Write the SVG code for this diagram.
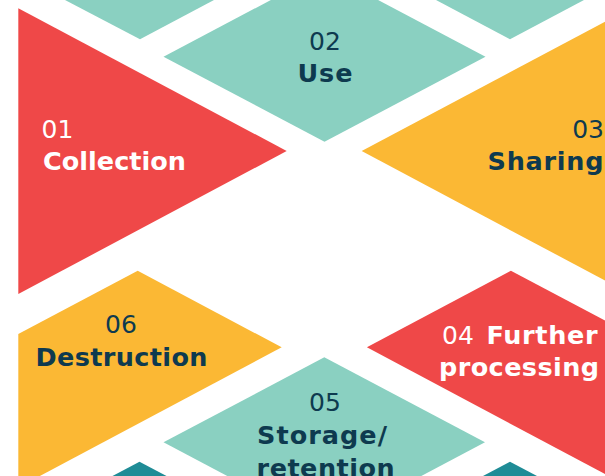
<svg xmlns="http://www.w3.org/2000/svg" width="605" height="476" viewBox="0 0 605 476">
<style>
.teal{fill:#8AD0C1}
.dteal{fill:#1F8C96}
.red{fill:#EF4848}
.yel{fill:#FBB834}
text{font-family:"DejaVu Sans","Verdana",sans-serif}
.num{font-weight:normal;font-size:25px}
.lbl{font-weight:bold;font-size:25.5px}
.w{fill:#FFFFFF}
.d{fill:#0E3A4F}
</style>
<rect width="605" height="476" fill="#FFFFFF"/>
<g id="deco">
<polygon class="teal" points="65,0 140,39.3 214,0"/>
<polygon class="teal" points="436,0 510,39.3 584,0"/>
<polygon class="dteal" points="139.5,461.7 210,499 69,499"/>
<polygon class="dteal" points="510,461.7 580.5,499 439.5,499"/>
</g>
<g id="node-01">
<polygon class="red" points="18.3,8.3 286.7,151 18.3,294"/>
<text class="num w" x="41.5" y="137.5">01</text>
<text class="lbl w" x="43" y="170" textLength="143" lengthAdjust="spacing">Collection</text>
</g>
<g id="node-02">
<polygon class="teal" points="163.5,56.7 324.5,-28.3 485.5,56.7 324.5,141.7"/>
<text class="num d" x="325" y="50" text-anchor="middle">02</text>
<text class="lbl d" x="325" y="81.5" text-anchor="middle" textLength="55" lengthAdjust="spacing">Use</text>
</g>
<g id="node-03">
<polygon class="yel" points="630.3,8.3 361.7,151 630.3,294"/>
<text class="num d" x="604" y="138" text-anchor="end">03</text>
<text class="lbl d" x="603.5" y="170" text-anchor="end" textLength="116" lengthAdjust="spacing">Sharing</text>
</g>
<g id="node-04">
<polygon class="red" points="630.3,334 510.9,270.7 366.9,347.3 630.3,487.5"/>
<text class="num w" x="442" y="344.3">04</text>
<text class="lbl w" x="597.5" y="344.3" text-anchor="end" textLength="111" lengthAdjust="spacing">Further</text>
<text class="lbl w" x="519" y="376" text-anchor="middle" textLength="160" lengthAdjust="spacing">processing</text>
</g>
<g id="node-05">
<polygon class="teal" points="324.3,357.3 485,442.3 324.3,527.3 163.5,442.3"/>
<text class="num d" x="325" y="411" text-anchor="middle">05</text>
<text class="lbl d" x="322" y="444.3" text-anchor="middle" textLength="130" lengthAdjust="spacing">Storage/</text>
<text class="lbl d" x="325.6" y="476.5" text-anchor="middle" textLength="138" lengthAdjust="spacing">retention</text>
</g>
<g id="node-06">
<polygon class="yel" points="18.3,334 137.7,270.7 281.7,347.3 18.3,487.5"/>
<text class="num d" x="121" y="332.7" text-anchor="middle">06</text>
<text class="lbl d" x="121.5" y="366" text-anchor="middle" textLength="172" lengthAdjust="spacing">Destruction</text>
</g>
</svg>
